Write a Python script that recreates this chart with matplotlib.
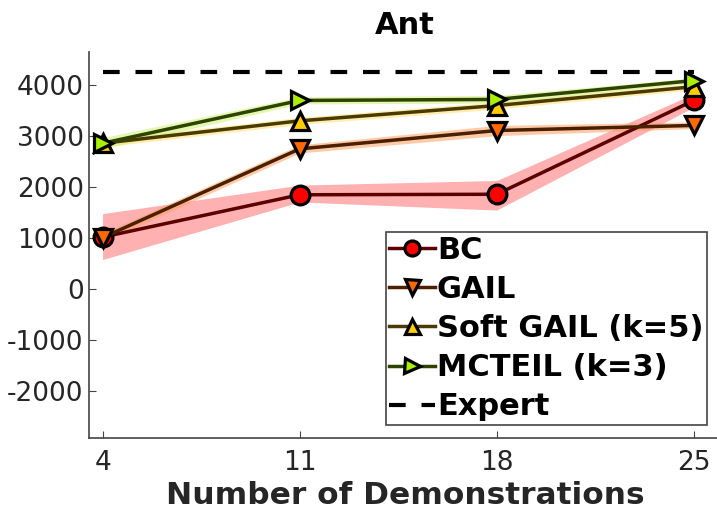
import matplotlib
matplotlib.use('Agg')
import matplotlib.pyplot as plt
import numpy as np

plt.rcParams['axes.unicode_minus'] = False

demos = [4, 11, 18, 25]

bc_mean = [1010, 1840, 1850, 3690]
bc_low = [570, 1700, 1540, 3560]
bc_high = [1470, 2030, 2120, 3820]

gail_mean = [1000, 2740, 3100, 3200]
gail_low = [920, 2660, 3000, 3140]
gail_high = [1080, 2820, 3200, 3270]

soft_mean = [2850, 3290, 3590, 3960]
soft_low = [2780, 3220, 3520, 3900]
soft_high = [2920, 3360, 3660, 4020]

mcteil_mean = [2850, 3690, 3710, 4080]
mcteil_low = [2740, 3620, 3640, 4030]
mcteil_high = [2960, 3760, 3790, 4130]

expert = 4240

series = [
    ('BC', bc_mean, bc_low, bc_high, 'o', '#ff0000', '#5a0000', '#ff7070'),
    ('GAIL', gail_mean, gail_low, gail_high, 'v', '#ff6a00', '#4a2000', '#ffa060'),
    ('Soft GAIL (k=5)', soft_mean, soft_low, soft_high, '^', '#ffcc00', '#4a3a00', '#ffe070'),
    ('MCTEIL (k=3)', mcteil_mean, mcteil_low, mcteil_high, '>', '#aaee00', '#2c4400', '#d0f070'),
]

fig = plt.figure(figsize=(7.17, 5.13), dpi=100)
ax = fig.add_axes([88.5 / 717, 1 - 438 / 513, (722 - 88.5) / 717, (438 - 52) / 513])

for name, mean, low, high, mk, face, line, band in series:
    ax.fill_between(demos, low, high, color=band, alpha=0.55, linewidth=0)
    ax.plot(demos, mean, color=line, linewidth=2.5, marker=mk, markersize=13.5,
            markerfacecolor=face, markeredgecolor='black', markeredgewidth=2.3,
            label=name)

ax.plot([demos[0], demos[-1]], [expert, expert], color='black', linewidth=3,
        linestyle=(0, (4, 3.8)), label='Expert')

ax.set_xlim(3.5, 26)
ax.set_ylim(-2930, 4640)
ax.set_xticks(demos)
ax.set_yticks([-2000, -1000, 0, 1000, 2000, 3000, 4000])
ax.spines['top'].set_visible(False)
ax.spines['right'].set_visible(False)
for s in ['left', 'bottom']:
    ax.spines[s].set_color('#444444')
    ax.spines[s].set_linewidth(1.2)
ax.tick_params(direction='in', length=5, labelsize=19, colors='#444444',
               labelcolor='#262626')
ax.tick_params(axis='x', pad=9)

ax.set_title('Ant', fontsize=22, fontweight='bold', pad=13)
ax.set_xlabel('Number of Demonstrations', fontsize=22.5, fontweight='bold',
              color='#262626', labelpad=3)

leg = ax.legend(loc='lower right', bbox_to_anchor=(707 / 717, 1 - 425 / 513),
                bbox_transform=fig.transFigure,
                prop={'weight': 'bold', 'size': 22}, handlelength=1.5,
                handletextpad=0.05, labelspacing=0.33, borderpad=0.12,
                markerscale=0.8, fancybox=False, framealpha=1,
                edgecolor='#444444', borderaxespad=0)
leg.get_frame().set_linewidth(1.2)

fig.savefig('out.png', dpi=100)
